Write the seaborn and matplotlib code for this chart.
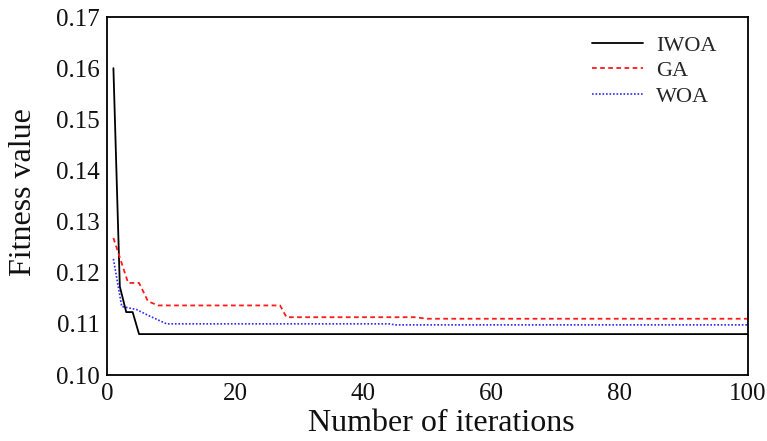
import matplotlib
matplotlib.use("Agg")
import matplotlib.pyplot as plt
import seaborn as sns
import pandas as pd

# Data (breakpoints)
iwoa_x = [1, 2, 3, 4, 5, 100]
iwoa_y = [0.1600, 0.1173, 0.1123, 0.1123, 0.1080, 0.1080]

ga_x = [1, 3.3, 5, 6.4, 8, 27, 28, 48, 50, 100]
ga_y = [0.1268, 0.1180, 0.1180, 0.1144, 0.1136, 0.1136, 0.1113, 0.1113, 0.1110, 0.1110]

woa_x = [1, 2.3, 4.6, 6.7, 9.3, 44, 45, 100]
woa_y = [0.1227, 0.1134, 0.1128, 0.1115, 0.1100, 0.1100, 0.1098, 0.1098]

x_ticks = [0, 20, 40, 60, 80, 100]
y_ticks = [0.10, 0.11, 0.12, 0.13, 0.14, 0.15, 0.16, 0.17]
y_tick_labels = ["0.10", "0.11", "0.12", "0.13", "0.14", "0.15", "0.16", "0.17"]

sns.set_theme(style="white")
plt.rcParams["font.family"] = ["Liberation Serif", "DejaVu Serif"]

fig = plt.figure(figsize=(7.67, 4.41), dpi=100)
ax = fig.add_axes([107 / 767, 1 - 375 / 441, (748 - 107) / 767, (375 - 17) / 441])

df_iwoa = pd.DataFrame({"x": iwoa_x, "y": iwoa_y})
df_ga = pd.DataFrame({"x": ga_x, "y": ga_y})
df_woa = pd.DataFrame({"x": woa_x, "y": woa_y})

sns.lineplot(data=df_iwoa, x="x", y="y", ax=ax, color="black", lw=1.3, sort=False,
             label="IWOA")
sns.lineplot(data=df_ga, x="x", y="y", ax=ax, color="#ff1a1a", lw=1.3, sort=False,
             label="GA", linestyle=(0, (2.6, 1.9)))
sns.lineplot(data=df_woa, x="x", y="y", ax=ax, color="#2a2aff", lw=1.2, sort=False,
             label="WOA", linestyle=(0, (1, 1.1)))

ax.set_xlim(0, 100)
ax.set_ylim(0.10, 0.17)
ax.set_xticks(x_ticks)
ax.set_xticklabels([str(t) for t in x_ticks])
ax.set_yticks(y_ticks)
ax.set_yticklabels(y_tick_labels)
ax.tick_params(axis="both", length=0, labelsize=18, colors="#111111")
ax.tick_params(axis="x", pad=6)
ax.tick_params(axis="y", pad=5)

for s in ax.spines.values():
    s.set_color("black")
    s.set_linewidth(1.3)

ax.set_xlabel("Number of iterations", fontsize=23, color="#111111")
ax.set_ylabel("Fitness value", fontsize=23, color="#111111")
ax.xaxis.set_label_coords(0.522, -0.095)
ax.yaxis.set_label_coords(-0.108, 0.51)

leg = ax.legend(loc="upper right", frameon=False, fontsize=16, handlelength=2.3,
                handletextpad=0.6, labelspacing=0.22, bbox_to_anchor=(0.982, 1.005))

fig.savefig("out.png", dpi=100, facecolor="white")
